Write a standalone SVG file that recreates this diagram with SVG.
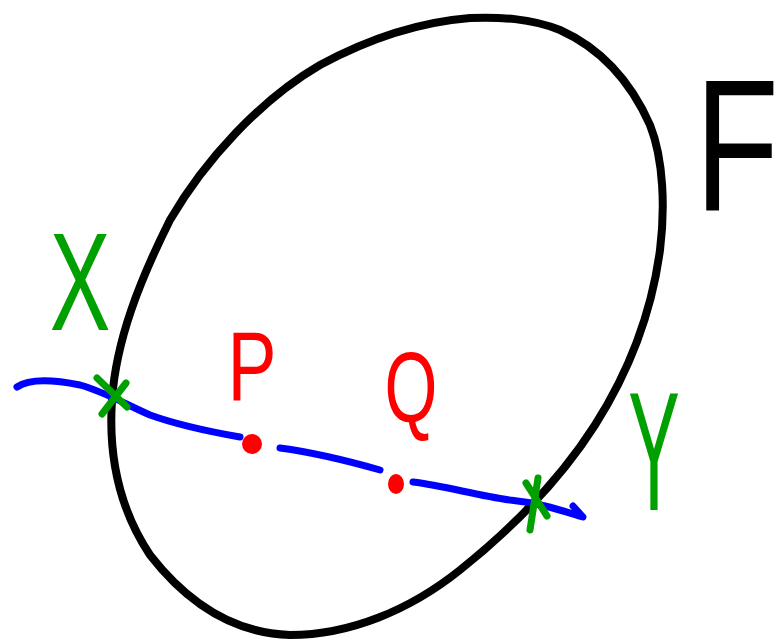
<svg xmlns="http://www.w3.org/2000/svg" width="779" height="640" viewBox="0 0 779 640">
<style>
.ln{fill:none;stroke-linecap:round;stroke-linejoin:round}
.lbl{font-family:"Liberation Sans",Arial,sans-serif;text-anchor:middle}
</style>
<rect width="779" height="640" fill="#fff"/>
<g id="ellipse-F">
<path class="ln" stroke="#000" stroke-width="8" d="M470,18 C500,17 530,18 560,30 C600,48 630,80 650,125 C664,160 665,210 660,250 C652,310 630,370 595,425 C560,480 510,530 460,570 C410,610 350,635 290,635 C230,633 185,600 150,555 C120,510 108,460 112,400 C116,340 140,280 170,220 C205,160 260,100 320,65 C370,38 420,22 470,18 Z"/>
</g>
<g id="connectors">
<path class="ln" stroke="#0000ff" stroke-width="7" d="M17,387 C30,378 55,380 80,385 C105,392 125,404 150,415 C175,424 200,430 240,437"/>
<path class="ln" stroke="#0000ff" stroke-width="7" d="M280,448 C310,452 345,460 380,470"/>
<path class="ln" stroke="#0000ff" stroke-width="7" d="M413,482 C445,486 475,495 510,500 C540,503 560,510 583,517 L573,506"/>
</g>
<g id="point-P">
<circle cx="252" cy="444" r="10" fill="#ff0000"/>
<text class="lbl" fill="#ff0000" font-size="98" transform="translate(252,400) scale(0.75,1)">P</text>
</g>
<g id="point-Q">
<ellipse cx="396" cy="484" rx="8" ry="10" fill="#ff0000"/>
<text class="lbl" fill="#ff0000" font-size="100" transform="translate(411,422) scale(0.68,1)">Q</text>
</g>
<g id="point-X">
<path class="ln" stroke="#00a000" stroke-width="7" d="M97,378 L127,407 M126,383 L102,414"/>
<text class="lbl" fill="#00a000" font-size="140" transform="translate(80,330) scale(0.65,1)">X</text>
</g>
<g id="point-Y">
<path class="ln" stroke="#00a000" stroke-width="7" d="M526,483 L547,516 M538,478 L530,530"/>
<text class="lbl" fill="#00a000" font-size="168" transform="translate(654,510) scale(0.46,1)">Y</text>
</g>
<g id="label-F">
<text class="lbl" fill="#000" font-size="188" transform="translate(737,210) scale(0.73,1)">F</text>
</g>
</svg>
